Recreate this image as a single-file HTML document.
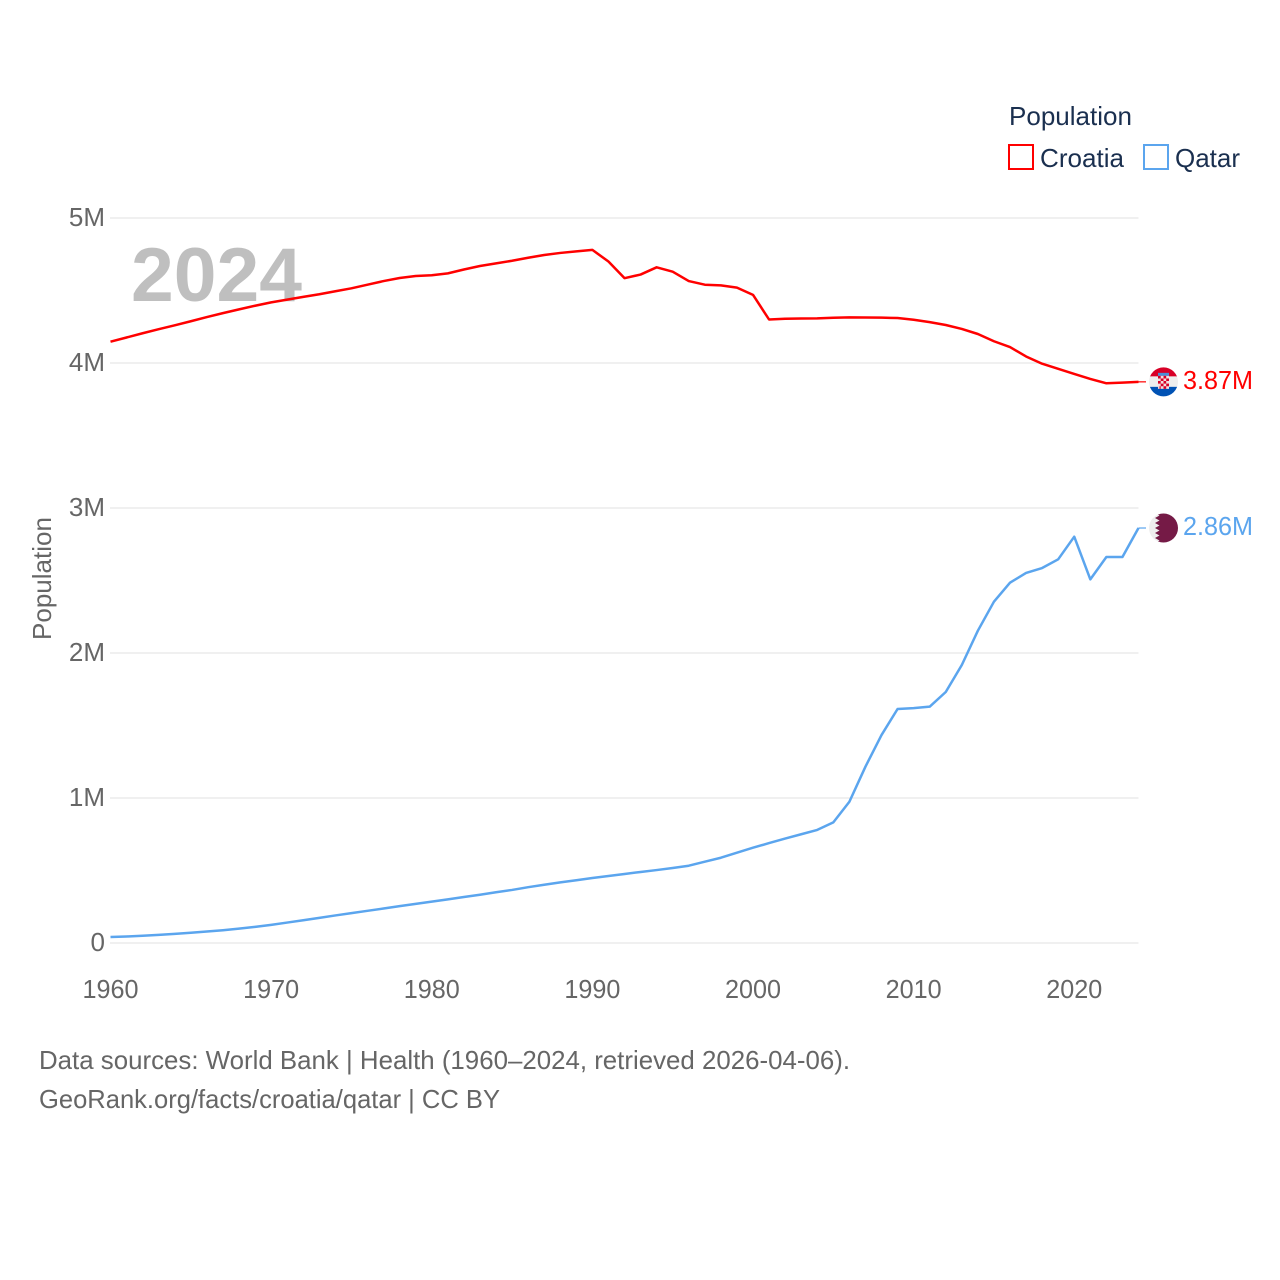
<!DOCTYPE html>
<html lang="en">
<head>
<meta charset="utf-8">
<title>Population: Croatia and Qatar</title>
<style>
html,body{margin:0;padding:0;background:#fff;}
svg{display:block;font-family:"Liberation Sans",sans-serif;}
</style>
</head>
<body>
<svg id="chart" xmlns="http://www.w3.org/2000/svg" width="1280" height="1280" viewBox="0 0 1280 1280">
  <defs>
    <clipPath id="flag-clip"><circle cx="0" cy="0" r="14.5"></circle></clipPath>
  </defs>
  <rect x="0" y="0" width="1280" height="1280" fill="#ffffff"></rect>
  <g id="grid"></g>
  <text x="131" y="301" font-size="76" font-weight="700" fill="#bfbfbf" textLength="171" lengthAdjust="spacingAndGlyphs">2024</text>
  <g id="yticks"></g>
  <g id="xticks"></g>
  <g id="series"></g>

  <g id="flag-croatia">
    <g clip-path="url(#flag-clip)">
      <rect x="-15" y="-15" width="30" height="10" fill="#d80027"></rect>
      <rect x="-15" y="-5.5" width="30" height="11" fill="#eeeeee"></rect>
      <rect x="-15" y="5" width="30" height="10" fill="#0052b4"></rect>
      <rect x="-5.5" y="-9" width="11" height="3" fill="#4b8fd6"></rect>
      <rect x="-5.5" y="-6" width="11" height="13" fill="#f3dede"></rect>
      <path d="M-5.5 -6h2.7v2.6h-2.7zM0 -6h2.7v2.6H0zM-2.8 -3.4H0v2.6h-2.8zM2.7 -3.4h2.8v2.6H2.7zM-5.5 -0.8h2.7v2.6h-2.7zM0 -0.8h2.7v2.6H0zM-2.8 1.8H0v2.6h-2.8zM2.7 1.8h2.8v2.6H2.7zM-4 4.4h1.2v2.6H-4zM0 4.4h2.7v2.6H0z" fill="#d80027"></path>
    </g>
  </g>
  <g id="flag-qatar">
    <g clip-path="url(#flag-clip)">
      <rect x="-15" y="-15" width="30" height="30" fill="#eeeeee"></rect>
      <path d="M15 -15H-8.5L-4 -12.5L-8.5 -10L-4 -7.5L-8.5 -5L-4 -2.5L-8.5 0L-4 2.5L-8.5 5L-4 7.5L-8.5 10L-4 12.5L-8.5 15H15Z" fill="#751a46"></path>
    </g>
  </g>
  <text id="label-croatia" x="1183" font-size="26" fill="#ff0000" textLength="70" lengthAdjust="spacingAndGlyphs"></text>
  <text id="label-qatar" x="1183" font-size="26" fill="#5ba5ee" textLength="70" lengthAdjust="spacingAndGlyphs"></text>

  <text transform="translate(51,640) rotate(-90)" font-size="26" fill="#666666" textLength="123" lengthAdjust="spacingAndGlyphs">Population</text>

  <g>
    <text x="1009" y="125" font-size="26" fill="#1a2f4f" textLength="123" lengthAdjust="spacingAndGlyphs">Population</text>
    <g>
      <rect x="1009" y="145" width="24" height="24" fill="none" stroke="#ff0000" stroke-width="2"></rect>
      <text x="1040" y="167" font-size="26" fill="#1a2f4f" textLength="84" lengthAdjust="spacingAndGlyphs">Croatia</text>
    </g>
    <g>
      <rect x="1144" y="145" width="24" height="24" fill="none" stroke="#5ba5ee" stroke-width="2"></rect>
      <text x="1175" y="167" font-size="26" fill="#1a2f4f" textLength="65" lengthAdjust="spacingAndGlyphs">Qatar</text>
    </g>
  </g>

  <text x="39" y="1069" font-size="26" fill="#666666" textLength="811" lengthAdjust="spacingAndGlyphs">Data sources: World Bank | Health (1960–2024, retrieved 2026-04-06).</text>
  <text x="39" y="1108" font-size="26" fill="#666666" textLength="461" lengthAdjust="spacingAndGlyphs">GeoRank.org/facts/croatia/qatar | CC BY</text>
</svg>
<script>
var years = [1960,1961,1962,1963,1964,1965,1966,1967,1968,1969,
  1970,1971,1972,1973,1974,1975,1976,1977,1978,1979,
  1980,1981,1982,1983,1984,1985,1986,1987,1988,1989,
  1990,1991,1992,1993,1994,1995,1996,1997,1998,1999,
  2000,2001,2002,2003,2004,2005,2006,2007,2008,2009,
  2010,2011,2012,2013,2014,2015,2016,2017,2018,2019,
  2020,2021,2022,2023,2024];
var croatiaValues = [4.147,4.176,4.205,4.233,4.26,4.288,4.317,4.344,4.37,4.395,
  4.418,4.437,4.456,4.474,4.495,4.515,4.54,4.565,4.586,4.6,
  4.605,4.618,4.645,4.669,4.687,4.705,4.726,4.745,4.759,4.77,
  4.78,4.70,4.585,4.61,4.66,4.63,4.565,4.54,4.535,4.52,
  4.47,4.30,4.305,4.307,4.308,4.312,4.315,4.314,4.313,4.31,
  4.298,4.282,4.262,4.235,4.2,4.15,4.11,4.045,3.995,3.96,
  3.925,3.89,3.86,3.865,3.87];
var qatarValues = [0.041,0.045,0.05,0.056,0.063,0.071,0.079,0.088,0.099,0.111,
  0.125,0.141,0.157,0.173,0.19,0.206,0.222,0.238,0.254,0.27,
  0.285,0.301,0.317,0.333,0.35,0.366,0.385,0.402,0.418,0.433,
  0.448,0.462,0.476,0.49,0.503,0.517,0.533,0.561,0.588,0.623,
  0.657,0.689,0.72,0.75,0.78,0.832,0.974,1.216,1.434,1.614,
  1.62,1.63,1.731,1.917,2.154,2.354,2.485,2.552,2.586,2.646,
  2.802,2.508,2.662,2.662,2.862];
var yTickValues = [0,1,2,3,4,5];
var yTickLabels = ["0","1M","2M","3M","4M","5M"];
var xTickValues = [1960,1970,1980,1990,2000,2010,2020];
var xTickLabels = ["1960","1970","1980","1990","2000","2010","2020"];

var NS = "http://www.w3.org/2000/svg";
function xScale(year){ return 110.5 + (year - 1960) * (1138.5 - 110.5) / 64; }
function yScale(val){ return 943 - val * 145; }
function pathFor(vals){
  var d = "";
  for (var i = 0; i < vals.length; i++) {
    d += (i ? "L" : "M") + xScale(years[i]).toFixed(2) + " " + yScale(vals[i]).toFixed(2);
  }
  return d;
}
function fmt(v){ return v.toFixed(2) + "M"; }

var grid = document.getElementById("grid");
var yticks = document.getElementById("yticks");
var xticks = document.getElementById("xticks");
var series = document.getElementById("series");

yTickValues.forEach(function(v, i){
  var line = document.createElementNS(NS, "line");
  
  
  line.setAttribute("x1", 110);
  line.setAttribute("x2", 1138.5);
  line.setAttribute("y1", yScale(v));
  line.setAttribute("y2", yScale(v));
  line.setAttribute("stroke", "#e8e8e8");
  line.setAttribute("stroke-width", "1.2");
  grid.appendChild(line);

  var t = document.createElementNS(NS, "text");
  
  
  t.setAttribute("x", 105);
  t.setAttribute("y", yScale(v) + 8);
  t.setAttribute("text-anchor", "end");
  t.setAttribute("font-size", "26");
  t.setAttribute("fill", "#666666");
  t.textContent = yTickLabels[i];
  yticks.appendChild(t);
});

xTickValues.forEach(function(v, i){
  var t = document.createElementNS(NS, "text");
  
  
  t.setAttribute("x", xScale(v));
  t.setAttribute("y", 998);
  t.setAttribute("text-anchor", "middle");
  t.setAttribute("font-size", "26");
  t.setAttribute("fill", "#666666");
  t.setAttribute("textLength", "56");
  t.setAttribute("lengthAdjust", "spacingAndGlyphs");
  t.textContent = xTickLabels[i];
  xticks.appendChild(t);
});

var croatiaLine = document.createElementNS(NS, "path");


croatiaLine.setAttribute("d", pathFor(croatiaValues));
croatiaLine.setAttribute("fill", "none");
croatiaLine.setAttribute("stroke", "#ff0000");
croatiaLine.setAttribute("stroke-width", "2.5");
croatiaLine.setAttribute("stroke-linejoin", "round");
series.appendChild(croatiaLine);

var qatarLine = document.createElementNS(NS, "path");


qatarLine.setAttribute("d", pathFor(qatarValues));
qatarLine.setAttribute("fill", "none");
qatarLine.setAttribute("stroke", "#5ba5ee");
qatarLine.setAttribute("stroke-width", "2.5");
qatarLine.setAttribute("stroke-linejoin", "round");
series.appendChild(qatarLine);

var lastCroatia = croatiaValues[croatiaValues.length - 1];
var lastQatar = qatarValues[qatarValues.length - 1];

var croatiaConnector = document.createElementNS(NS, "line");


croatiaConnector.setAttribute("x1", xScale(2024));
croatiaConnector.setAttribute("x2", 1146);
croatiaConnector.setAttribute("y1", yScale(lastCroatia));
croatiaConnector.setAttribute("y2", yScale(lastCroatia));
croatiaConnector.setAttribute("stroke", "#ff0000");
croatiaConnector.setAttribute("stroke-width", "1.2");
series.appendChild(croatiaConnector);

var qatarConnector = document.createElementNS(NS, "line");


qatarConnector.setAttribute("x1", xScale(2024));
qatarConnector.setAttribute("x2", 1146);
qatarConnector.setAttribute("y1", yScale(lastQatar));
qatarConnector.setAttribute("y2", yScale(lastQatar));
qatarConnector.setAttribute("stroke", "#5ba5ee");
qatarConnector.setAttribute("stroke-width", "1.2");
series.appendChild(qatarConnector);

document.getElementById("flag-croatia").setAttribute("transform", "translate(1163.5," + yScale(lastCroatia) + ")");
document.getElementById("flag-qatar").setAttribute("transform", "translate(1163.5," + yScale(lastQatar) + ")");

var labelCroatia = document.getElementById("label-croatia");
labelCroatia.setAttribute("y", yScale(lastCroatia) + 7);
labelCroatia.textContent = fmt(lastCroatia);
var labelQatar = document.getElementById("label-qatar");
labelQatar.setAttribute("y", yScale(lastQatar) + 7);
labelQatar.textContent = fmt(lastQatar);
</script>
</body>
</html>
